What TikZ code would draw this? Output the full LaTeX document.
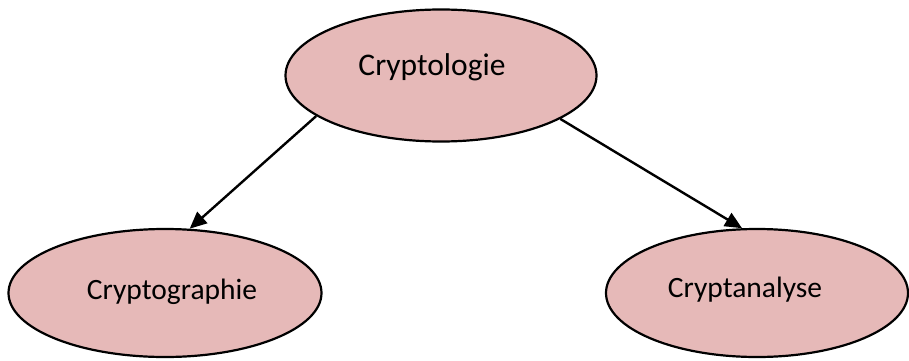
\documentclass[tikz,border=0pt]{standalone}
\usepackage{fontspec}
\setmainfont{Carlito}
\usetikzlibrary{arrows.meta,shapes.geometric}
\definecolor{pinkfill}{HTML}{E6B9B8}
\begin{document}
\begin{tikzpicture}[x=1pt,y=1pt,
  oval/.style={ellipse, draw=black, line width=2.2pt, fill=pinkfill, inner sep=0pt},
  txt/.style={font=\fontsize{29.5}{36}\selectfont},
  link/.style={line width=2.4pt, -{Triangle[length=17pt,width=15pt]}}]
\useasboundingbox (0,0) rectangle (909,360);
\node[oval, minimum width=311pt, minimum height=132pt,
  label={[font=\fontsize{31.5}{38}\selectfont, xshift=-9pt, yshift=8pt]center:Cryptologie}] (top) at (441,284.5) {};
\node[oval, minimum width=313pt, minimum height=128pt,
  label={[txt, xshift=7pt, yshift=1pt]center:Cryptographie}] (left) at (165,67) {};
\node[oval, minimum width=302pt, minimum height=128pt,
  label={[txt, xshift=-12pt, yshift=3pt]center:Cryptanalyse}] (right) at (757,67) {};
\draw[link] (top.198) -- (left.69);
\draw[link] (top.340) -- (right.103);
\end{tikzpicture}
\end{document}
